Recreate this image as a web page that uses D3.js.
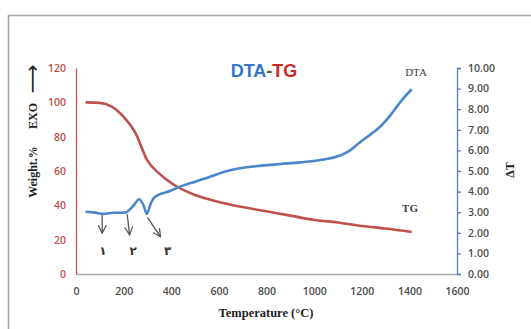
<!DOCTYPE html>
<html><head><meta charset="utf-8">
<script src="https://cdn.jsdelivr.net/npm/d3@7"></script>
<style>body{margin:0;background:#fff}svg{display:block}</style>
</head><body>
<script>
// Data
const tgTemp = [40, 100, 150, 200, 250, 300, 350, 400, 500, 600, 700, 800, 900, 1000, 1100, 1200, 1300, 1410];
const tgWeight = [100, 99.7, 97.5, 91.5, 82, 66, 58.5, 53, 46, 42, 39, 36.5, 34, 31.5, 30, 28, 26.5, 24.5];
const dtaTemp = [40, 80, 115, 160, 206, 240, 266, 285, 297, 315, 332, 400, 437, 500, 563, 620, 689, 780, 857, 941, 1025, 1109, 1151, 1193, 1240, 1277, 1320, 1347, 1380, 1410];
const dtaDT = [3.02, 2.98, 2.92, 2.97, 2.98, 3.3, 3.63, 3.3, 2.92, 3.45, 3.75, 4.05, 4.24, 4.48, 4.72, 4.95, 5.13, 5.26, 5.34, 5.42, 5.53, 5.75, 6.0, 6.4, 6.8, 7.15, 7.7, 8.12, 8.6, 8.97];
const xTicks = [0, 200, 400, 600, 800, 1000, 1200, 1400, 1600];
const leftTicks = [0, 20, 40, 60, 80, 100, 120];
const rightTicks = [0, 1, 2, 3, 4, 5, 6, 7, 8, 9, 10];
const arrowTemps = [[110, 110], [215, 225], [300, 355]];
const arrowLabels = ["١", "٢", "٣"];

const W = 531, H = 329;
const svg = d3.select("body").append("svg").attr("width", W).attr("height", H);

// Frame
svg.append("path").attr("d", `M8.5,${H} L8.5,15.5 L${W},15.5`).attr("fill", "none")
  .attr("stroke", "#a6a6a6").attr("stroke-width", 1.6);

const x = d3.scaleLinear().domain([0, 1600]).range([76, 457]);
const yL = d3.scaleLinear().domain([0, 120]).range([274, 68]);
const yR = d3.scaleLinear().domain([0, 10]).range([274, 68]);

const tickFont = "'Open Sans', 'Liberation Sans', sans-serif";
const serif = "'Liberation Serif', 'DejaVu Serif', serif";

// X axis
const gx = svg.append("g").attr("transform", "translate(0,274)")
  .call(d3.axisBottom(x).tickValues(xTicks).tickFormat(d3.format("d")).tickSize(0).tickPadding(14));
gx.select(".domain").attr("stroke", "#a6a6a6").attr("stroke-width", 1.5);
gx.selectAll("text").attr("font-family", tickFont).attr("font-size", 10.5)
  .attr("font-weight", 600).attr("fill", "#4d4d4d");

// Left axis
const gl = svg.append("g").attr("transform", "translate(76,0)")
  .call(d3.axisLeft(yL).tickValues(leftTicks).tickSize(0).tickPadding(10));
gl.select(".domain").attr("stroke", "#c0504d").attr("stroke-width", 1.3);
gl.selectAll("text").attr("font-family", tickFont).attr("font-size", 10.5)
  .attr("font-weight", 600).attr("fill", "#c0504d");

// Right axis
const gr = svg.append("g").attr("transform", "translate(457,0)")
  .call(d3.axisRight(yR).tickValues(rightTicks).tickSize(4).tickSizeOuter(4).tickPadding(7).tickFormat(d3.format(".2f")));
gr.select(".domain").attr("stroke", "#4f81bd").attr("stroke-width", 1.3);
gr.selectAll(".tick line").attr("stroke", "#4f81bd").attr("stroke-width", 1.3);
gr.selectAll("text").attr("font-family", tickFont).attr("font-size", 10.5)
  .attr("font-weight", 600).attr("fill", "#4d4d4d");

// Lines
const tgData = tgTemp.map((t, i) => [t, tgWeight[i]]);
const dtaData = dtaTemp.map((t, i) => [t, dtaDT[i]]);
svg.append("path").datum(tgData).attr("fill", "none").attr("stroke", "#c0504d")
  .attr("stroke-width", 2.6)
  .attr("d", d3.line().x(d => x(d[0])).y(d => yL(d[1])).curve(d3.curveMonotoneX));
svg.append("path").datum(dtaData).attr("fill", "none").attr("stroke", "#4a86c8")
  .attr("stroke-width", 2.6)
  .attr("d", d3.line().x(d => x(d[0])).y(d => yR(d[1])).curve(d3.curveMonotoneX));

// Arrows
const defs = svg.append("defs");
defs.append("marker").attr("id", "ah").attr("viewBox", "0 0 10 10").attr("refX", 9).attr("refY", 5)
  .attr("markerWidth", 9).attr("markerHeight", 9).attr("markerUnits", "userSpaceOnUse").attr("orient", "auto")
  .append("path").attr("d", "M0,0.5 L9,5 L0,9.5").attr("fill", "none").attr("stroke", "#555").attr("stroke-width", 1.4);
const arrowTop = [2.85, 2.9, 2.75];
const arrowBot = [1.98, 1.9, 1.8];
arrowTemps.forEach((a, i) => {
  svg.append("line").attr("x1", x(a[0])).attr("y1", yR(arrowTop[i]))
    .attr("x2", x(a[1])).attr("y2", yR(arrowBot[i]))
    .attr("stroke", "#555").attr("stroke-width", 1.3).attr("marker-end", "url(#ah)");
});
const labelT = [113, 240, 385];
arrowLabels.forEach((l, i) => {
  svg.append("text").attr("x", x(labelT[i])).attr("y", yR(0.9)).attr("text-anchor", "middle")
    .attr("font-family", "'DejaVu Sans', sans-serif").attr("font-size", 12).attr("font-weight", "bold")
    .attr("fill", "#333").text(l);
});

// Title
const title = svg.append("text").attr("x", 264).attr("y", 77).attr("text-anchor", "middle")
  .attr("font-family", "'Liberation Sans', Arial, sans-serif").attr("font-size", 18).attr("font-weight", "bold");
title.append("tspan").attr("fill", "#3474c4").text("DTA");
title.append("tspan").attr("fill", "#595959").text("-");
title.append("tspan").attr("fill", "#c8282a").text("TG");

// Series labels
svg.append("text").attr("x", 416).attr("y", 76).attr("text-anchor", "middle")
  .attr("font-family", serif).attr("font-size", 11).attr("fill", "#404040").text("DTA");
svg.append("text").attr("x", 410).attr("y", 212).attr("text-anchor", "middle")
  .attr("font-family", serif).attr("font-size", 11).attr("font-weight", "bold").attr("fill", "#404040").text("TG");

// Axis titles
svg.append("text").attr("x", 266).attr("y", 317).attr("text-anchor", "middle")
  .attr("font-family", serif).attr("font-size", 12.5).attr("font-weight", "bold").attr("fill", "#222")
  .text("Temperature (°C)");
svg.append("text").attr("transform", "translate(37,172) rotate(-90)").attr("text-anchor", "middle")
  .attr("font-family", serif).attr("font-size", 12).attr("font-weight", "bold").attr("fill", "#222")
  .text("Weight.%");
svg.append("text").attr("transform", "translate(37,116) rotate(-90)").attr("text-anchor", "middle")
  .attr("font-family", serif).attr("font-size", 12).attr("font-weight", "bold").attr("fill", "#222")
  .text("EXO");
svg.append("text").attr("transform", "translate(39,79) rotate(-90)").attr("text-anchor", "middle")
  .attr("font-family", "'DejaVu Sans', sans-serif").attr("font-size", 20).attr("fill", "#222")
  .text("⟶");
svg.append("text").attr("transform", "translate(514,170) rotate(-90)").attr("text-anchor", "middle")
  .attr("font-family", serif).attr("font-size", 12).attr("font-weight", "bold").attr("fill", "#222")
  .text("ΔT");
</script>
</body></html>
